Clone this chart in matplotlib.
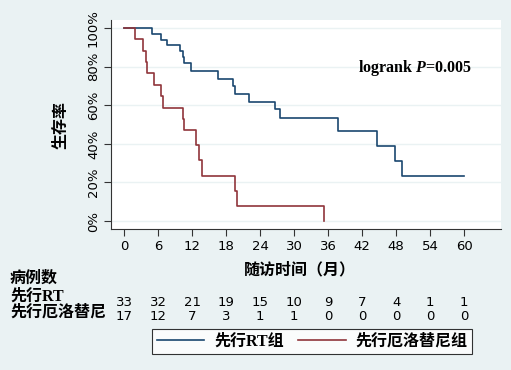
import matplotlib
matplotlib.use("Agg")
import matplotlib.pyplot as plt
import matplotlib.transforms as mtransforms

# survival curves (months, survival proportion)
rt_time = [0, 4.9, 6.5, 7.5, 9.9, 10.4, 10.6, 11.8, 16.6, 19.2, 19.6, 22.1,
           26.6, 27.5, 37.8, 44.6, 47.8, 49.1, 60.0]
rt_surv = [1.0, 0.970, 0.939, 0.909, 0.879, 0.848, 0.818, 0.776, 0.737, 0.700,
           0.658, 0.617, 0.579, 0.535, 0.466, 0.390, 0.311, 0.233, 0.233]

erlo_time = [0, 1.9, 3.3, 3.8, 4.0, 5.3, 6.5, 6.9, 10.4, 10.6, 12.7, 13.3,
             13.8, 19.5, 19.9, 35.3]
erlo_surv = [1.0, 0.941, 0.882, 0.824, 0.765, 0.706, 0.647, 0.588, 0.529,
             0.470, 0.392, 0.314, 0.235, 0.157, 0.078, 0.0]

# number at risk table
risk_times = [0, 6, 12, 18, 24, 30, 36, 42, 48, 54, 60]
rt_risk = [33, 32, 21, 19, 15, 10, 9, 7, 4, 1, 1]
erlo_risk = [17, 12, 7, 3, 1, 1, 0, 0, 0, 0, 0]

y_ticks = [0, 0.2, 0.4, 0.6, 0.8, 1.0]
y_tick_labels = ["0%", "20%", "40%", "60%", "80%", "100%"]

BG = "#EAF2F3"
NAVY = "#1A476F"
MAROON = "#90353B"
TICK_FONT = ["Liberation Sans Narrow", "DejaVu Sans"]
CJK_FONT = ["Liberation Serif", "Noto Sans CJK SC"]

# bold serif for the logrank annotation, italic P
plt.rcParams["mathtext.fontset"] = "custom"
plt.rcParams["mathtext.rm"] = "Liberation Serif:bold"
plt.rcParams["mathtext.it"] = "Liberation Serif:italic:bold"

fig = plt.figure(figsize=(5.11, 3.70), dpi=100, facecolor=BG)
ax = fig.add_axes([111 / 511, 1 - 229 / 370, 390 / 511, 209 / 370])
ax.set_facecolor("white")

ax.step(rt_time, rt_surv, where="post", color=NAVY, lw=1.2, label="先行RT组")
ax.step(erlo_time, erlo_surv, where="post", color=MAROON, lw=1.2, label="先行厄洛替尼组")

ax.set_xlim(-2.3, 66.5)
ax.set_ylim(-0.041, 1.041)
ax.set_xticks(risk_times)
ax.set_yticks(y_ticks)
ax.set_yticklabels(y_tick_labels, rotation=90, va="center")
for lab in ax.get_xticklabels() + ax.get_yticklabels():
    lab.set_family(TICK_FONT)
    lab.set_fontsize(9.5)
ax.tick_params(length=5, width=0.8, color="#333333", pad=3)

for y in y_ticks:
    ax.axhline(y, color=BG, lw=1.0, zorder=0)

for side in ("top", "right"):
    ax.spines[side].set_visible(False)
for side in ("left", "bottom"):
    ax.spines[side].set_color("#333333")
    ax.spines[side].set_linewidth(0.8)

ax.text(61.3, 0.795, "logrank $\\mathit{P}$=0.005", family="Liberation Serif",
        fontweight="bold", fontsize=11.5, ha="right", va="center")

fig.text(62 / 511, 1 - 125 / 370, "生存率", family=CJK_FONT, fontsize=11.5,
         fontweight="bold", rotation=90, ha="center", va="center")
fig.text(300 / 511, 1 - 270 / 370, "随访时间（月）", family=CJK_FONT, fontsize=11.5,
         fontweight="bold", ha="center", va="center")

# risk table
fig.text(10 / 511, 1 - 279 / 370, "病例数", family=CJK_FONT, fontsize=11.5,
         fontweight="bold", ha="left", va="center")
fig.text(10 / 511, 1 - 297 / 370, "先行RT", family=CJK_FONT, fontsize=11.5,
         fontweight="bold", ha="left", va="center")
fig.text(10 / 511, 1 - 313 / 370, "先行厄洛替尼", family=CJK_FONT, fontsize=11.5,
         fontweight="bold", ha="left", va="center")

blend = mtransforms.blended_transform_factory(ax.transData, fig.transFigure)
for t, a, b in zip(risk_times, rt_risk, erlo_risk):
    ax.text(t, 1 - 302 / 370, str(a), transform=blend, family=TICK_FONT,
            fontsize=9.5, ha="center", va="center", clip_on=False)
    ax.text(t, 1 - 317 / 370, str(b), transform=blend, family=TICK_FONT,
            fontsize=9.5, ha="center", va="center", clip_on=False)

leg = ax.legend(loc="center", bbox_to_anchor=(312 / 511, 1 - 341.5 / 370),
                bbox_transform=fig.transFigure, ncol=2, frameon=True,
                fancybox=False, edgecolor="black", facecolor="white",
                handlelength=3.0, columnspacing=0.9, handletextpad=0.6,
                borderpad=0.3, prop={"family": CJK_FONT, "size": 11.5, "weight": "bold"})
leg.get_frame().set_linewidth(0.8)

fig.savefig("out.png", dpi=100, facecolor=BG)
